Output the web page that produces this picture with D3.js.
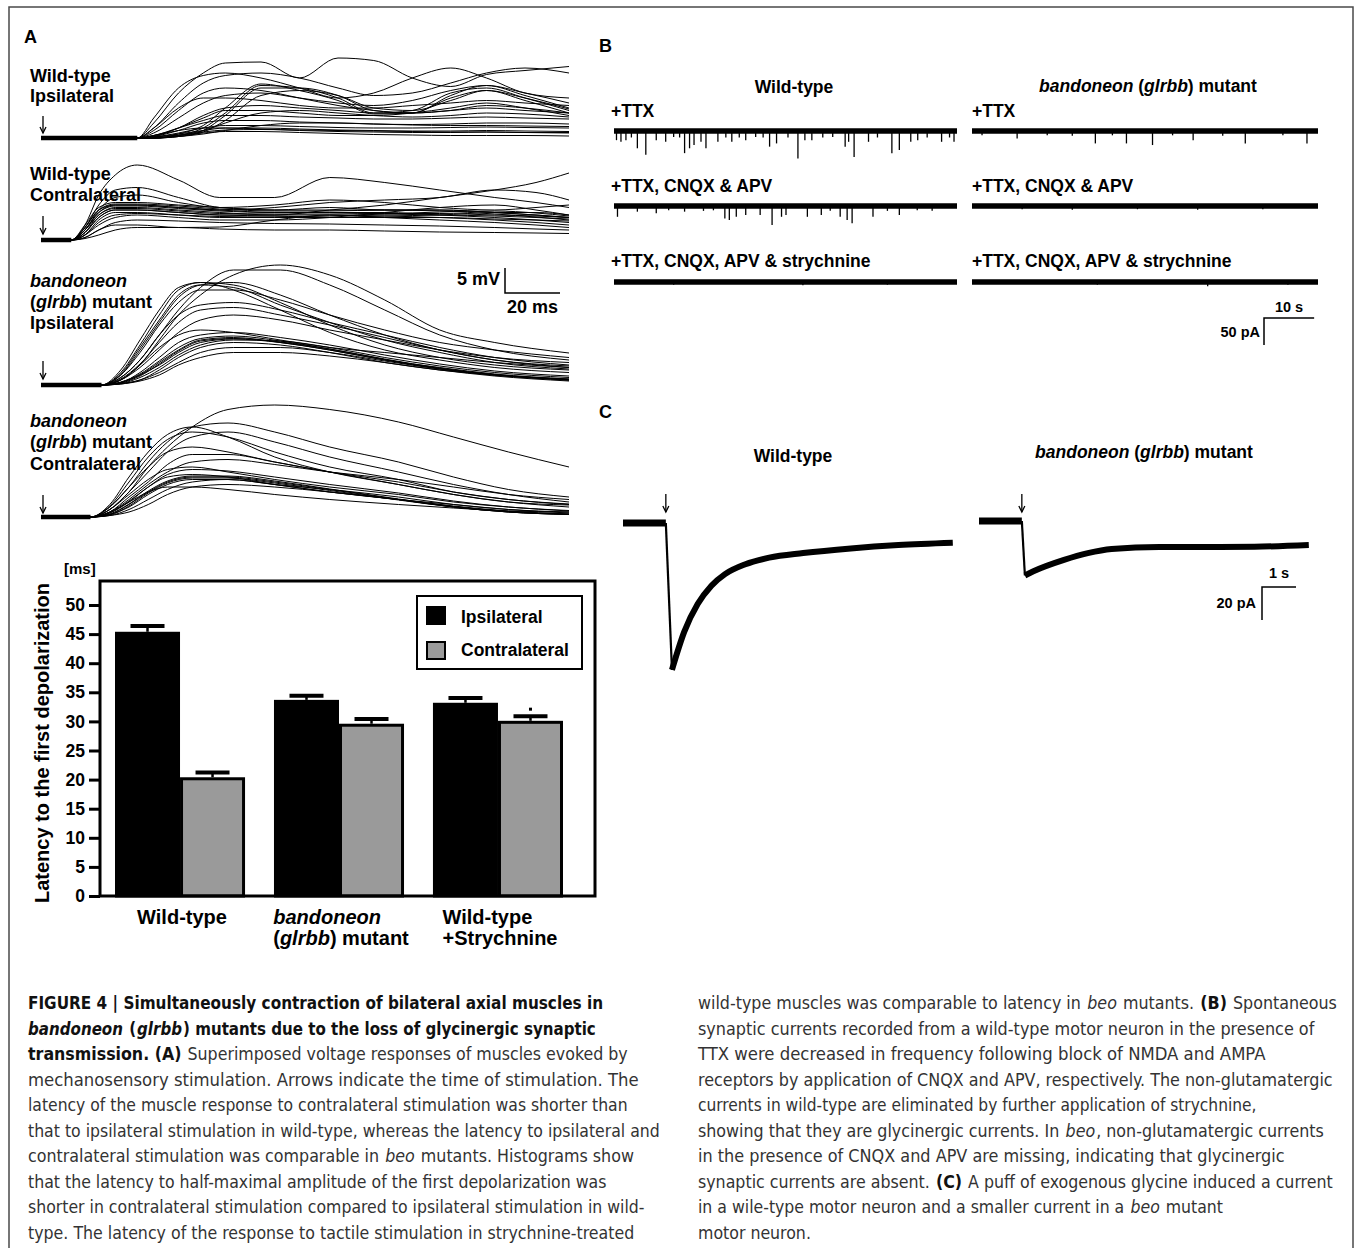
<!DOCTYPE html>
<html>
<head>
<meta charset="utf-8">
<script src="https://cdn.jsdelivr.net/npm/d3@7"></script>
<style>
  body { margin: 0; background: #fff; }
  svg { display: block; font-family: "Liberation Sans", Arial, Helvetica, sans-serif; }
</style>
</head>
<body>
<div id="chart"></div>
<script>
// ---------- panel A : superimposed voltage traces (ms, mV) ----------
const timesWtIpsi = [0, 35, 41, 50, 59, 67, 80, 94, 108, 121, 135, 149, 162, 176, 192];
const tracesWtIpsi = [
  [0,0,3,9,13,15,15.2,12,16,15.5,12,10.3,12.7,13.5,14.3],
  [0,0,2,7,11,12.5,13,12,10,8.5,9,11,13,14,13],
  [0,0,4,10,12.5,13,12,10,8,9,12,14,12,9,8],
  [0,0,0,0.5,2,5,10.5,10,8,5,5.5,9,10,8,5.5],
  [0,0,0,0.3,1.5,4.5,10,10,8.5,5.5,5,8.5,10.5,8.5,6],
  [0,0,0,0.8,2.5,6,10.8,9.5,7.5,4.8,5,8,9.5,7.5,5],
  [0,0,0,0.3,1.2,3.5,8.5,9.5,8.5,6,5.5,7.5,9.5,8,5.8],
  [0,0,1,4,7,8.5,9,8,7,6.5,7.5,9.5,10.5,9,7],
  [0,0,2,6,8,8,7.5,6.5,6,6,6.5,7,7.5,7,6.5],
  [0,0,0.5,2,4.5,6,6.5,6,5.5,5,5,5.5,6,5.5,5],
  [0,0,0,0.5,1.5,3,5,5.5,5,4.5,4.2,4.5,5,4.8,4.2],
  [0,0,0.5,2,3.5,4.5,4.5,4.2,4,3.8,3.8,4,4.2,4,3.8],
  [0,0,0.3,1.5,3,3.5,3.5,3.2,3,2.8,2.7,2.8,3,3,2.8],
  [0,0,0,0.3,0.8,1.5,2.5,3,3,2.8,2.6,2.5,2.5,2.4,2.3],
  [0,0,0.2,1,2,2.5,2.5,2.3,2.1,2,2,2.1,2.2,2.1,2],
  [0,0,0.2,0.8,1.5,2,2,1.8,1.6,1.5,1.4,1.4,1.5,1.4,1.3],
  [0,0,0.2,0.6,1.2,1.6,1.7,1.6,1.5,1.4,1.3,1.2,1.2,1.1,1.1],
  [0,0,0.5,1.5,2,2,1.8,1.5,1.3,1.2,1.1,1.1,1.2,1.1,1],
  [0,0,0,0.5,1,1.3,1.3,1.1,0.9,0.7,0.6,0.5,0.5,0.5,0.4],
  [0,0,1.5,5.5,9,10,9.5,8,6.5,5.5,5,5.5,6.5,6,5],
  [0,0,0.3,2,4,5.5,5.5,5,4.5,4.5,5,6,7,6,4.5]
];
const timesWtContra = [0, 11, 16, 21, 27, 35, 50, 65, 85, 105, 125, 145, 165, 180, 192];
const tracesWtContra = [
  [0,0,3,9,13,15,12,8.5,8.5,12.5,11.5,10,8.5,7.5,6.5],
  [0,0,2.5,7,10,10.5,8.5,6.5,6,6.5,6,6,5.5,5,4.5],
  [0,0,1.5,4.5,6,6,5.5,5,5,6,7,8.5,10,11.5,13.4],
  [0,0,2,5.5,7,7,6.5,6,6.5,7.5,8,8.5,10,9.5,8],
  [0,0,3,6.5,7.5,7.5,7,6.5,6,6,6,6,5.5,5,4.5],
  [0,0,2.5,6,7.2,7.2,6.8,6.2,5.8,5.8,6,5.8,5.2,4.6,4],
  [0,0,2.5,6,7,7,6.5,6,5.5,5.5,5.5,5,4.5,4,3.5],
  [0,0,2,5.5,6.8,6.8,6.3,5.8,5.5,5.5,5.2,5,4.8,4.5,4.2],
  [0,0,2,5,6.5,6.5,6,5.5,5,5,4.8,4.5,4,3.5,3],
  [0,0,1.5,5,6.3,6.3,5.8,5.3,5.2,5.2,5.3,5.3,5,4.8,4.5],
  [0,0,1.5,4.5,6,6,5.5,5,4.8,4.5,4.5,4.5,4.2,4,3.8],
  [0,0,1,4,5.5,5.5,5,4.5,4.5,4.5,4.8,5,5.5,5.5,5],
  [0,0,1,3.5,5,5.3,5,4.7,4.6,4.8,5.2,5.6,5.8,5.4,4.8],
  [0,0,1,3,4.5,5,4.5,4,4,4.5,5.5,6.5,7,6,5],
  [0,0,0.5,2,3.5,4,3.8,3.5,3.3,3.2,3,2.8,2.5,2.2,2],
  [0,0,0.5,2,3,3,2.5,2.6,4,5,4.5,4,3.5,3,2.5],
  [0,0,0.3,1,2,2.5,2.5,2.2,2,2,1.8,1.6,1.5,1.4,1.3],
  [0,0,2,6,8.5,9,7.5,6.5,7,8,7.5,6.5,6,6.5,7]
];
const timesBeoIpsi = [0, 22, 29, 36, 43, 50, 58, 70, 87, 105, 125, 145, 165, 192];
const tracesBeoIpsi = [
  [0,0,1,4,9,14,18,22,24,22,17,11,8.5,6.4],
  [0,0,1.5,5,10,15,19.5,23,23,20,15,10,7,5],
  [0,0,2.5,8,14,19,20.5,20,16.5,12,8,5.5,4,3],
  [0,0,3,9,15,19.5,20.5,19,15,10.5,7,5,3.5,2.5],
  [0,0,2.2,7.5,13,18,20,19.5,16,12.5,9,6.5,4.5,3.2],
  [0,0,2,7,12.5,17.5,20,20.5,18,14,10,7,5,3.5],
  [0,0,2,6.5,12,16.5,19,19,17,14,11,8.5,7,5.5],
  [0,0,1.5,5,10,14,16,16.5,15,12.5,10,7.5,5.5,4],
  [0,0,1.2,4.2,8.5,12.5,15,15.5,14,12,9.5,7,5,3.8],
  [0,0,1,3.5,7,10.5,13,14,13,11,9,7,5.5,4.5],
  [0,0,0.5,2,4.5,7,9,9.5,8.5,7,5,3.2,2,1],
  [0,0,0.4,1.8,4.2,6.8,8.8,9.3,8.6,7.2,5.2,3.4,2.1,1.1],
  [0,0,0.6,2.2,4.8,7.5,9.3,9.8,8.8,7.2,5.1,3.3,2,1],
  [0,0,0.5,2,4,6.5,8.5,9.2,8.5,7,5,3.5,2.2,1.2],
  [0,0,0.3,1.5,3.5,6,8,9,8.8,7.5,5.5,3.8,2.5,1.5],
  [0,0,0.3,1,3,5.5,7.5,8.5,8,6.5,4.5,3,1.8,0.8],
  [0,0,0.2,1,2.5,4.5,6.5,7.5,7.5,6.5,4.8,3.2,2,1],
  [0,0,0.5,2.5,5.5,8.5,10,10.5,9.5,8,6,4.2,2.8,1.8],
  [0,0,0.2,0.8,2,4,5.5,6.5,6.5,5.8,4.5,3,2,1.2],
  [0,0,1,4,7.5,10,11,10.5,9,7.5,6.5,5.5,4.5,3.5]
];
const timesBeoContra = [0, 18, 25, 32, 39, 46, 55, 68, 85, 105, 130, 150, 170, 192];
const tracesBeoContra = [
  [0,0,1.5,5,10,14,18,21.5,22.4,21.5,19,16,13,10],
  [0,0,2,6,11,15,18,18.8,17,14,11,8,5.5,4],
  [0,0,2.5,8,13,16.5,18,16,12,9,6.5,4.5,3,2.4],
  [0,0,2.2,7,12,15.5,17,16,13,10,7.5,5,3.5,2.6],
  [0,0,1.5,5,9,13,16,17,15,12,9,6.5,4.5,3],
  [0,0,2,6,10,13,14,13,11,9,6.5,4.5,3,2],
  [0,0,1,4,7,10.5,12.5,12.5,11,9,7,5,3.5,2.5],
  [0,0,1.5,4.5,7.5,9.5,10,9,7.5,6,4.5,3,2,1.2],
  [0,0,0.8,3.2,6,8.5,9.5,9.2,8,6.5,4.8,3.2,2,1.3],
  [0,0,0.5,2.5,5,7,8,8,7,5.5,3.5,2,1,0.5],
  [0,0,0.6,2.6,5.2,7.2,8.2,8.2,7.2,5.6,3.6,2.1,1.1,0.6],
  [0,0,0.5,2,4.5,6.5,7.5,7.5,6.5,5,3.5,2,1,0.5],
  [0,0,0.4,2.2,4.8,6.8,7.8,7.8,6.8,5.3,3.4,2,1,0.5],
  [0,0,0.3,1.5,3.5,5.5,7,7.5,6.5,5.5,4,2.5,1.5,0.8],
  [0,0,0.8,3,6,8,8.5,8,6.5,5,3.5,2.5,1.5,1],
  [0,0,0.3,1,2.5,4.5,6,6.5,6,5,3.5,2.2,1.2,0.6],
  [0,0,1,3,5,6,6,5.5,4.5,3.5,2.5,1.8,1.2,1],
  [0,0,1,3.5,6.5,9,11,11.5,10.5,9,7.5,6,4.5,3.5]
];
const onsetMs = [35, 11, 22, 18];
const rowLabels = [
  [[["Wild-type", "b"]], [["Ipsilateral", "b"]]],
  [[["Wild-type", "b"]], [["Contralateral", "b"]]],
  [[["bandoneon", "bi"]], [["(", "b"], ["glrbb", "bi"], [") mutant", "b"]], [["Ipsilateral", "b"]]],
  [[["bandoneon", "bi"]], [["(", "b"], ["glrbb", "bi"], [") mutant", "b"]], [["Contralateral", "b"]]]
];

// ---------- panel A : latency histogram (ms) ----------
const groups = ["wt", "beo", "wtStr"];
const groupLabels = [
  [[["Wild-type", "b"]]],
  [[["bandoneon", "bi"]], [["(", "b"], ["glrbb", "bi"], [") mutant", "b"]]],
  [[["Wild-type", "b"]], [["+Strychnine", "b"]]]
];
const sides = ["Ipsilateral", "Contralateral"];
const ipsiMean = [45.4, 33.7, 33.2];
const ipsiErr = [1.0, 0.7, 0.8];
const contraMean = [20.4, 29.6, 30.1];
const contraErr = [0.8, 0.8, 0.8];
const markerValue = 32.1;   // small dot above the strychnine contralateral bar
const yTicks = [0, 5, 10, 15, 20, 25, 30, 35, 40, 45, 50];

// ---------- panel B : spontaneous currents, spikes as [s, pA] ----------
const bCols = ["Wild-type", "mutant"];
const bRows = ["+TTX", "+TTX, CNQX & APV", "+TTX, CNQX, APV & strychnine"];
const spikesWtTTX = [[0.5,17],[1.4,20],[2.4,17],[3.5,12],[4.7,32],[6.4,44],[8.5,17],[10.4,20],[12,11],[13.2,12],[14.2,41],[15.2,32],[16.1,26],[17.5,20],[18.5,32],[20.9,20],[22.5,12],[23.7,20],[25.2,12],[26.5,17],[28.5,11],[30,12],[31.3,29],[32.7,23],[35,12],[37,51],[38.4,17],[39.8,17],[42,12],[44,11],[46.5,29],[47.2,20],[48.3,48],[51.2,20],[53,12],[55.9,41],[57.4,35],[59.7,20],[61.1,17],[63,12],[65.9,20],[67.5,12],[68.4,20]];
const spikesWtCNQX = [[0.7,20],[4.7,10.5],[8.5,13.6],[11,8],[14.2,10.5],[18,9],[20,8],[22.3,23],[23.2,26],[24.6,20],[26.5,16.7],[29.4,16.7],[31.8,35],[33.7,20],[34.6,16.7],[38.9,20],[41.7,16.7],[43.5,9],[45.5,20],[46.9,26],[47.9,32],[52.1,20],[55,9],[57.4,16.7],[61,8],[64,9]];
const spikesWtStr = [[12,5],[38,6],[55,5]];
const spikesBeoTTX = [[2,8],[9,14],[15,8],[20,9],[24.6,23],[28,8],[30.8,23],[36,26],[40,8],[44.1,17],[50,9],[54.5,23],[62,8],[66.8,23]];
const spikesBeoCNQX = [[10,6],[20,7],[33,6],[45,7],[58,6]];
const spikesBeoStr = [[25,5],[47,8],[63,5]];
const bSpikes = [[spikesWtTTX, spikesWtCNQX, spikesWtStr], [spikesBeoTTX, spikesBeoCNQX, spikesBeoStr]];
const bDuration = 69;

// ---------- panel C : glycine puff currents [s, pA] ----------
const puffWt = [[0,0],[1.26,0],[1.44,-89],[1.8,-66],[2.2,-49],[2.6,-38],[3.0,-31],[3.6,-25],[4.3,-21],[5.3,-18.2],[6.7,-15.4],[8.1,-13.4],[9.7,-12]];
const puffBeo = [[0,0],[1.26,0],[1.35,-33],[1.6,-30.5],[2.5,-23.6],[3.2,-19.5],[3.9,-17],[5.3,-15.8],[6.7,-15.8],[8.1,-15.6],[9.7,-14.5]];
const puffDropIndex = [1, 1];
const puffMinIndex = [2, 2];

// ---------- caption ----------
const captionLeft = [
  [["FIGURE 4 | Simultaneously contraction of bilateral axial muscles in", "b"]],
  [["bandoneon", "bi"], [" (", "b"], ["glrbb", "bi"], [") mutants due to the loss of glycinergic synaptic", "b"]],
  [["transmission. (A)", "b"], [" Superimposed voltage responses of muscles evoked by", ""]],
  [["mechanosensory stimulation. Arrows indicate the time of stimulation. The", ""]],
  [["latency of the muscle response to contralateral stimulation was shorter than", ""]],
  [["that to ipsilateral stimulation in wild-type, whereas the latency to ipsilateral and", ""]],
  [["contralateral stimulation was comparable in ", ""], ["beo", "i"], [" mutants. Histograms show", ""]],
  [["that the latency to half-maximal amplitude of the first depolarization was", ""]],
  [["shorter in contralateral stimulation compared to ipsilateral stimulation in wild-", ""]],
  [["type. The latency of the response to tactile stimulation in strychnine-treated", ""]]
];
const captionRight = [
  [["wild-type muscles was comparable to latency in ", ""], ["beo", "i"], [" mutants. ", ""], ["(B)", "b"], [" Spontaneous", ""]],
  [["synaptic currents recorded from a wild-type motor neuron in the presence of", ""]],
  [["TTX were decreased in frequency following block of NMDA and AMPA", ""]],
  [["receptors by application of CNQX and APV, respectively. The non-glutamatergic", ""]],
  [["currents in wild-type are eliminated by further application of strychnine,", ""]],
  [["showing that they are glycinergic currents. In ", ""], ["beo", "i"], [", non-glutamatergic currents", ""]],
  [["in the presence of CNQX and APV are missing, indicating that glycinergic", ""]],
  [["synaptic currents are absent. ", ""], ["(C)", "b"], [" A puff of exogenous glycine induced a current", ""]],
  [["in a wile-type motor neuron and a smaller current in a ", ""], ["beo", "i"], [" mutant", ""]],
  [["motor neuron.", ""]]
];
const captionLeftWidth = [576, 569, 601, 612, 601, 633, 607, 580, 618, 607];
const captionRightWidth = [640, 618, 569, 636, 560, 627, 588, 636, 526, 114];

// =====================================================================
const W = 1355, H = 1248;
const svg = d3.select("#chart").append("svg").attr("width", W).attr("height", H);

function rich(g, x, y, segs, size, anchor) {
  const t = g.append("text").attr("x", x).attr("y", y).attr("font-size", size)
    .attr("text-anchor", anchor || "start").style("white-space", "pre");
  segs.forEach(([s, st]) => {
    t.append("tspan").text(s)
      .attr("font-weight", st.includes("b") ? "bold" : null)
      .attr("font-style", st.includes("i") ? "italic" : null);
  });
  return t;
}

function arrow(g, x, y0, y1) {
  g.append("line").attr("x1", x).attr("x2", x).attr("y1", y0).attr("y2", y1)
    .attr("stroke", "#000").attr("stroke-width", 1.3);
  g.append("path").attr("d", `M${x - 3},${y1 - 6}L${x},${y1}L${x + 3},${y1 - 6}`)
    .attr("fill", "none").attr("stroke", "#000").attr("stroke-width", 1.3);
}

// outer frame
svg.append("path").attr("d", "M9,1248V7H1353V1248").attr("fill", "none")
  .attr("stroke", "#4a4a4a").attr("stroke-width", 1.5);

// ------------------------- panel A traces -------------------------
const gA = svg.append("g");
gA.append("text").attr("x", 24).attr("y", 43).attr("font-size", 18).attr("font-weight", "bold").text("A");

const xA = d3.scaleLinear().domain([0, 192]).range([41, 569]);
const rowBase = [138, 240, 385, 517];
const rowLabelY = [[82, 102], [180, 201], [287, 308, 329], [427, 448, 470]];
const arrowY = [[116, 133], [216, 234], [361, 379], [495, 513]];
const rowTimes = [timesWtIpsi, timesWtContra, timesBeoIpsi, timesBeoContra];
const rowTraces = [tracesWtIpsi, tracesWtContra, tracesBeoIpsi, tracesBeoContra];

rowTraces.forEach((traces, i) => {
  const yA = d3.scaleLinear().domain([0, 10]).range([rowBase[i], rowBase[i] - 50]);
  rowLabels[i].forEach((segs, k) => rich(gA, 30, rowLabelY[i][k], segs, 18));
  arrow(gA, 43, arrowY[i][0], arrowY[i][1]);
  const line = d3.line()
    .x((d, j) => xA(rowTimes[i][j]))
    .y(d => yA(d))
    .curve(d3.curveMonotoneX);
  gA.append("g").selectAll("path").data(traces).join("path")
    .attr("d", line).attr("fill", "none").attr("stroke", "#000").attr("stroke-width", 1);
  // thick resting baseline where all sweeps overlap
  gA.append("line").attr("x1", xA(0)).attr("x2", xA(onsetMs[i]))
    .attr("y1", yA(0)).attr("y2", yA(0)).attr("stroke", "#000").attr("stroke-width", 4.5);
});

// scale bar 5 mV / 20 ms
{
  const y0 = 293, x0 = 505;
  const len20 = xA(20) - xA(0), len5 = 5 * 5;
  gA.append("path").attr("d", `M${x0},${y0 - len5}V${y0}H${x0 + len20}`)
    .attr("fill", "none").attr("stroke", "#000").attr("stroke-width", 1.5);
  gA.append("text").attr("x", x0 - 5).attr("y", 285).attr("text-anchor", "end")
    .attr("font-size", 18).attr("font-weight", "bold").text("5 mV");
  gA.append("text").attr("x", x0 + len20 / 2).attr("y", 313).attr("text-anchor", "middle")
    .attr("font-size", 18).attr("font-weight", "bold").text("20 ms");
}

// ------------------------- panel A histogram -------------------------
const gH = svg.append("g");
const frame = { l: 100, r: 595, t: 581, b: 896 };
const yH = d3.scaleLinear().domain([0, 50]).range([896, 605]);
const xG = d3.scaleBand().domain(groups).range([115, 563]).paddingInner(0.182).paddingOuter(0);
const xS = d3.scaleBand().domain(sides).range([0, xG.bandwidth()]);

const barData = [];
groups.forEach((g, i) => {
  barData.push({ g, s: sides[0], v: ipsiMean[i], e: ipsiErr[i] });
  barData.push({ g, s: sides[1], v: contraMean[i], e: contraErr[i] });
});

// error bars (drawn first so bar outline covers the stem base)
const eb = gH.append("g").selectAll("g").data(barData).join("g");
eb.append("line")
  .attr("x1", d => xG(d.g) + xS(d.s) + xS.bandwidth() / 2)
  .attr("x2", d => xG(d.g) + xS(d.s) + xS.bandwidth() / 2)
  .attr("y1", d => yH(d.v)).attr("y2", d => yH(d.v + d.e))
  .attr("stroke", "#000").attr("stroke-width", 2.5);
eb.append("line")
  .attr("x1", d => xG(d.g) + xS(d.s) + xS.bandwidth() / 2 - 17)
  .attr("x2", d => xG(d.g) + xS(d.s) + xS.bandwidth() / 2 + 17)
  .attr("y1", d => yH(d.v + d.e)).attr("y2", d => yH(d.v + d.e))
  .attr("stroke", "#000").attr("stroke-width", 4);

gH.append("g").selectAll("rect").data(barData).join("rect")
  .attr("x", d => xG(d.g) + xS(d.s) + 1.5)
  .attr("y", d => yH(d.v) + 1.5)
  .attr("width", xS.bandwidth() - 3)
  .attr("height", d => yH(0) - yH(d.v) - 1.5)
  .attr("fill", d => d.s === sides[0] ? "#000" : "#9a9a9a")
  .attr("stroke", "#000").attr("stroke-width", 3);

// significance dot
gH.append("rect")
  .attr("x", xG("wtStr") + xS(sides[1]) + xS.bandwidth() / 2 - 1.5)
  .attr("y", yH(markerValue) - 1.5).attr("width", 3).attr("height", 3).attr("fill", "#000");

// frame and axis
gH.append("rect").attr("x", frame.l).attr("y", frame.t)
  .attr("width", frame.r - frame.l).attr("height", frame.b - frame.t)
  .attr("fill", "none").attr("stroke", "#000").attr("stroke-width", 3);
const axY = gH.append("g").attr("transform", `translate(${frame.l},0)`)
  .call(d3.axisLeft(yH).tickValues(yTicks).tickSize(11).tickSizeOuter(0).tickPadding(4));
axY.select(".domain").remove();
axY.selectAll(".tick line").attr("stroke", "#000").attr("stroke-width", 3);
axY.selectAll(".tick text").attr("font-size", 17.5).attr("font-weight", "bold")
  .attr("font-family", "Liberation Sans, Arial, sans-serif").attr("fill", "#000");

gH.append("text").attr("x", 64).attr("y", 574).attr("font-size", 15).attr("font-weight", "bold").text("[ms]");
gH.append("text").attr("transform", "translate(49,743) rotate(-90)").attr("text-anchor", "middle")
  .attr("font-size", 20).attr("font-weight", "bold").text("Latency to the first depolarization");

// x labels: left-aligned blocks centred under each group
groupLabels.forEach((lines, i) => {
  const cx = xG(groups[i]) + xG.bandwidth() / 2;
  const texts = lines.map((segs, k) => rich(gH, 0, 924 + k * 21, segs, 20));
  const wMax = d3.max(texts, t => t.node().getComputedTextLength());
  texts.forEach(t => t.attr("x", cx - wMax / 2 + 2));
});

// legend
{
  const lg = gH.append("g");
  lg.append("rect").attr("x", 417).attr("y", 596).attr("width", 165).attr("height", 73)
    .attr("fill", "#fff").attr("stroke", "#000").attr("stroke-width", 2);
  sides.forEach((s, i) => {
    lg.append("rect").attr("x", 427).attr("y", 607 + i * 35).attr("width", 18).attr("height", 17)
      .attr("fill", i === 0 ? "#000" : "#9a9a9a").attr("stroke", "#000").attr("stroke-width", 2);
    lg.append("text").attr("x", 461).attr("y", 623 + i * 33).attr("font-size", 17.5)
      .attr("font-weight", "bold").text(s);
  });
}

// ------------------------- panel B -------------------------
const gB = svg.append("g");
gB.append("text").attr("x", 599).attr("y", 52).attr("font-size", 18).attr("font-weight", "bold").text("B");
rich(gB, 794, 93, [["Wild-type", "b"]], 17.5, "middle");
rich(gB, 1148, 92, [["bandoneon", "bi"], [" (", "b"], ["glrbb", "bi"], [") mutant", "b"]], 17.5, "middle");
const bColX = [[614, 957], [972, 1318]];
const bLabelX = [611, 972];
const bRowY = [131, 206, 282];
const bLabelY = [117, 192, 267];
const pxPerPA = 0.54;
bCols.forEach((c, ci) => {
  const xB = d3.scaleLinear().domain([0, bDuration]).range(bColX[ci]);
  bRows.forEach((r, ri) => {
    rich(gB, bLabelX[ci], bLabelY[ri], [[r, "b"]], 17.5);
    const yB = d3.scaleLinear().domain([0, -100]).range([bRowY[ri], bRowY[ri] + 100 * pxPerPA]);
    gB.append("line").attr("x1", xB(0)).attr("x2", xB(bDuration)).attr("y1", yB(0)).attr("y2", yB(0))
      .attr("stroke", "#000").attr("stroke-width", 5.5);
    gB.append("g").selectAll("line").data(bSpikes[ci][ri]).join("line")
      .attr("x1", d => xB(d[0])).attr("x2", d => xB(d[0]))
      .attr("y1", yB(0)).attr("y2", d => yB(-d[1]))
      .attr("stroke", "#000").attr("stroke-width", 1.3);
  });
});
{
  const x0 = 1264, y0 = 318;
  const len10 = 10 * (bColX[1][1] - bColX[1][0]) / bDuration, len50 = 50 * pxPerPA;
  gB.append("path").attr("d", `M${x0},${y0 + len50}V${y0}H${x0 + len10}`)
    .attr("fill", "none").attr("stroke", "#000").attr("stroke-width", 1.5);
  gB.append("text").attr("x", x0 + len10 / 2).attr("y", 312).attr("text-anchor", "middle")
    .attr("font-size", 14.5).attr("font-weight", "bold").text("10 s");
  gB.append("text").attr("x", x0 - 4).attr("y", 337).attr("text-anchor", "end")
    .attr("font-size", 14.5).attr("font-weight", "bold").text("50 pA");
}

// ------------------------- panel C -------------------------
const gC = svg.append("g");
gC.append("text").attr("x", 599).attr("y", 418).attr("font-size", 18).attr("font-weight", "bold").text("C");
rich(gC, 793, 462, [["Wild-type", "b"]], 17.5, "middle");
rich(gC, 1144, 458, [["bandoneon", "bi"], [" (", "b"], ["glrbb", "bi"], [") mutant", "b"]], 17.5, "middle");
const pxPerSec = 34, pxPerPAc = 1.65;
const cStartX = [623, 979], cBaseY = [523, 521];
[puffWt, puffBeo].forEach((trace, i) => {
  const xC = d3.scaleLinear().domain([0, 1]).range([cStartX[i], cStartX[i] + pxPerSec]);
  const yC = d3.scaleLinear().domain([0, -1]).range([cBaseY[i], cBaseY[i] + pxPerPAc]);
  const lin = d3.line().x(d => xC(d[0])).y(d => yC(d[1]));
  const smooth = d3.line().x(d => xC(d[0])).y(d => yC(d[1])).curve(d3.curveMonotoneX);
  const di = puffDropIndex[i], mi = puffMinIndex[i];
  gC.append("path").attr("d", lin(trace.slice(0, di + 1))).attr("fill", "none")
    .attr("stroke", "#000").attr("stroke-width", 7);
  gC.append("path").attr("d", lin(trace.slice(di, mi + 1))).attr("fill", "none")
    .attr("stroke", "#000").attr("stroke-width", 2.2);
  gC.append("path").attr("d", smooth(trace.slice(mi))).attr("fill", "none")
    .attr("stroke", "#000").attr("stroke-width", 6).attr("stroke-linejoin", "round");
  arrow(gC, xC(trace[di][0]), 494, 512);
});
{
  const x0 = 1262, y0 = 587;
  gC.append("path").attr("d", `M${x0},${y0 + 20 * pxPerPAc}V${y0}H${x0 + pxPerSec}`)
    .attr("fill", "none").attr("stroke", "#000").attr("stroke-width", 1.5);
  gC.append("text").attr("x", x0 + pxPerSec / 2).attr("y", 578).attr("text-anchor", "middle")
    .attr("font-size", 14.5).attr("font-weight", "bold").text("1 s");
  gC.append("text").attr("x", x0 - 6).attr("y", 608).attr("text-anchor", "end")
    .attr("font-size", 14.5).attr("font-weight", "bold").text("20 pA");
}

// ------------------------- caption -------------------------
// each line: segments laid out side by side, then the whole line squeezed to the column width
const gT = svg.append("g").attr("font-family", "'Liberation Sans Narrow', 'DejaVu Sans Condensed', sans-serif");
function captionCol(lines, widths, x) {
  lines.forEach((segs, i) => {
    const g = gT.append("g");
    let cx = 0;
    segs.forEach(([s, st]) => {
      const t = g.append("text").attr("x", cx).attr("y", 0).attr("font-size", 18)
        .style("white-space", "pre").text(s)
        .attr("font-weight", st.includes("b") ? "bold" : null)
        .attr("font-style", st.includes("i") ? "italic" : null)
        .attr("fill", st.includes("b") ? "#111" : "#333");
      cx += t.node().getComputedTextLength() + 1;
    });
    const sx = widths[i] / cx;
    g.attr("transform", `translate(${x},${1009 + i * 25.5}) scale(${sx},1)`);
  });
}
captionCol(captionLeft, captionLeftWidth, 28);
captionCol(captionRight, captionRightWidth, 698);
</script>
</body>
</html>
